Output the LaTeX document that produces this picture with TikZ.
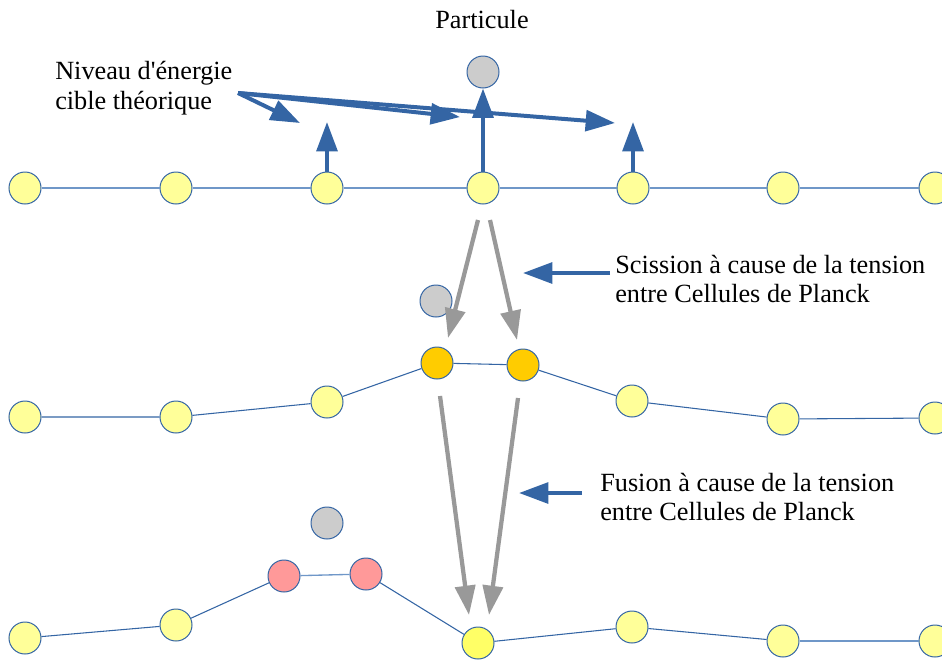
\documentclass[tikz,border=0pt]{standalone}
\usepackage{fontspec}
\setmainfont{Liberation Serif}
\usetikzlibrary{arrows.meta}
\definecolor{cblue}{HTML}{3465A4}
\definecolor{lblue}{HTML}{6F97C8}
\definecolor{cyel}{HTML}{FFFF99}
\definecolor{byel}{HTML}{FFFF66}
\definecolor{corange}{HTML}{FFCC00}
\definecolor{cpink}{HTML}{FF9999}
\definecolor{cgray}{HTML}{CCCCCC}
\definecolor{agray}{HTML}{999999}
\begin{document}
\begin{tikzpicture}[x=0.75pt,y=-0.75pt,
 cell/.style={circle,draw=cblue,line width=0.75pt,fill=cyel,minimum size=24pt,inner sep=0pt},
 link/.style={draw=cblue,line width=0.8pt},
 llink/.style={draw=lblue,line width=1pt},
 barrow/.style={draw=cblue,line width=3pt,-{Triangle[length=22pt,width=15.5pt]}},
 garrow/.style={draw=agray,line width=3.2pt,-{Triangle[length=22pt,width=15pt]}},
 lbl/.style={font=\fontsize{19.7}{22}\selectfont,align=left,inner sep=0pt}]
\useasboundingbox (0,0) rectangle (942,661);
% row 1
\node[cell] (a1) at (25,188) {};
\node[cell] (a2) at (176,188) {};
\node[cell] (a3) at (327,188) {};
\node[cell] (a4) at (483,188) {};
\node[cell] (a5) at (633,188) {};
\node[cell] (a6) at (783,188) {};
\node[cell] (a7) at (935,188) {};
\draw[llink] (a1) -- (a2) -- (a3) -- (a4) -- (a5) -- (a6) -- (a7);
\node[cell,fill=cgray] (p1) at (483,72) {};
\node[lbl] (part) at (482,20) {Particule};
\node[lbl,anchor=west] (niv) at (55,88) {Niveau d\textquotesingle énergie\\cible théorique};
\coordinate (n0) at (238,93);
\coordinate (e1) at (300,123);
\coordinate (e2) at (460,117);
\coordinate (e3) at (615,123);
\coordinate (t3) at (327,122);
\coordinate (t5) at (633,122);
\draw[barrow] (n0) -- (e1);
\draw[barrow] (n0) -- (e2);
\draw[barrow] (n0) -- (e3);
\draw[barrow] (a3.north) -- (t3);
\draw[barrow] (a4.north) -- (p1.south);
\draw[barrow] (a5.north) -- (t5);
% row 2
\node[cell] (b1) at (25,417) {};
\node[cell] (b2) at (176,417) {};
\node[cell] (b3) at (327,402) {};
\node[cell,fill=corange] (b4) at (437,363) {};
\node[cell,fill=corange] (b5) at (523,365) {};
\node[cell] (b6) at (632,401) {};
\node[cell] (b7) at (783,419) {};
\node[cell] (b8) at (935,418) {};
\draw[link] (b1) -- (b2) -- (b3) -- (b4) -- (b5) -- (b6) -- (b7) -- (b8);
\node[cell,fill=cgray] (g2) at (436,301) {};
\coordinate (s1) at (478,220);
\coordinate (s2) at (490,220);
\coordinate (s3) at (448,338);
\coordinate (s4) at (517,340);
\draw[garrow] (s1) -- (s3);
\draw[garrow] (s2) -- (s4);
\coordinate (h1) at (610,273);
\coordinate (h2) at (523,273);
\draw[barrow] (h1) -- (h2);
\node[lbl,anchor=west] (sci) at (615,279) {Scission à cause de la tension\\entre Cellules de Planck};
% row 3
\node[cell] (c1) at (25,638) {};
\node[cell] (c2) at (176,625) {};
\node[cell,fill=cpink] (c3) at (284,576) {};
\node[cell,fill=cpink] (c4) at (366,574) {};
\node[cell,fill=byel] (c5) at (478,643) {};
\node[cell] (c6) at (632,627) {};
\node[cell] (c7) at (783,641) {};
\node[cell] (c8) at (935,641) {};
\draw[link] (c1) -- (c2) -- (c3);
\draw[llink] (c3) -- (c4);
\draw[link] (c4) -- (c5) -- (c6) -- (c7);
\draw[llink] (c7) -- (c8);
\node[cell,fill=cgray] (g3) at (327,523) {};
\coordinate (f1) at (440,396);
\coordinate (f2) at (518,398);
\coordinate (f3) at (469,615);
\coordinate (f4) at (489,615);
\draw[garrow] (f1) -- (f3);
\draw[garrow] (f2) -- (f4);
\coordinate (k1) at (582,493);
\coordinate (k2) at (519,493);
\draw[barrow] (k1) -- (k2);
\node[lbl,anchor=west] (fus) at (600,497) {Fusion à cause de la tension\\entre Cellules de Planck};
\end{tikzpicture}
\end{document}
